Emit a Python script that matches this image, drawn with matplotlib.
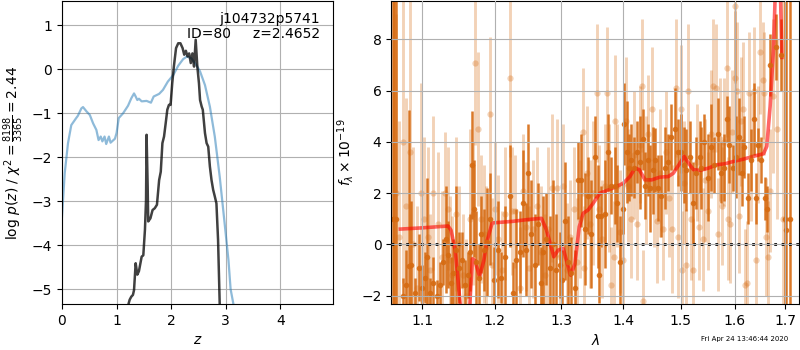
import matplotlib
matplotlib.use("Agg")
import matplotlib.pyplot as plt
from matplotlib.ticker import FixedLocator, FormatStrFormatter, NullLocator, NullFormatter

# ---------------- left panel data ----------------
z_blue = [0.0, 0.05, 0.11, 0.17, 0.26, 0.29, 0.355, 0.385, 0.45, 0.51, 0.57, 0.63, 0.67, 0.71,
          0.74, 0.78, 0.81, 0.86, 0.89, 0.97, 1.0, 1.04, 1.12, 1.21, 1.27, 1.32, 1.35, 1.38,
          1.41, 1.46, 1.55, 1.63, 1.68, 1.78, 1.85, 1.94, 2.04, 2.13, 2.22, 2.29, 2.37, 2.46,
          2.53, 2.62, 2.71, 2.80, 2.89, 2.98, 3.05, 3.09, 3.14, 3.20]
lnp_blue = [-3.35, -2.36, -1.68, -1.27, -1.11, -1.06, -0.89, -0.86, -0.96, -1.04, -1.23, -1.38,
            -1.61, -1.53, -1.64, -1.53, -1.70, -1.53, -1.67, -1.58, -1.45, -1.11, -1.0, -0.83,
            -0.66, -0.55, -0.62, -0.70, -0.67, -0.73, -0.72, -0.76, -0.62, -0.56, -0.47, -0.28,
            -0.13, 0.08, 0.23, 0.29, 0.25, 0.10, -0.05, -0.36, -0.85, -1.53, -2.44, -3.5,
            -4.33, -5.0, -5.33, -5.8]

z_black = [1.20, 1.22, 1.24, 1.27, 1.30, 1.32, 1.35, 1.38, 1.41, 1.46, 1.49, 1.52, 1.54, 1.55,
           1.57, 1.58, 1.62, 1.66, 1.70, 1.74, 1.78, 1.81, 1.84, 1.87, 1.90, 1.93, 1.96, 1.99,
           2.02, 2.05, 2.09, 2.13, 2.17, 2.21, 2.24, 2.27, 2.30, 2.33, 2.36, 2.39, 2.42, 2.45,
           2.48, 2.51, 2.53, 2.56, 2.58, 2.62, 2.65, 2.68, 2.71, 2.74, 2.77, 2.80, 2.83, 2.86,
           2.89, 2.91]
lnp_black = [-5.8, -5.33, -5.24, -5.17, -5.13, -5.02, -4.41, -4.67, -4.59, -4.26, -4.23, -3.65,
             -2.97, -1.49, -2.67, -3.46, -3.39, -3.20, -3.16, -3.08, -2.52, -2.33, -1.68, -1.53,
             -1.23, -0.92, -0.81, -0.81, -0.32, 0.06, 0.48, 0.59, 0.59, 0.48, 0.33, 0.42, 0.29,
             0.36, 0.14, 0.36, 0.06, 0.67, 0.06, -0.32, -0.70, -0.85, -0.92, -1.45, -1.68,
             -1.76, -2.21, -2.52, -2.74, -2.89, -3.05, -3.88, -5.33, -6.0]

# ---------------- right panel data ----------------
# model
lam_model = [1.0717, 1.1013, 1.1348, 1.1388, 1.1447, 1.1506, 1.1560, 1.1625, 1.1684, 1.1720,
             1.1785, 1.1845, 1.1893, 1.1965, 1.2257, 1.2480, 1.2693, 1.2770, 1.2882, 1.2949,
             1.3029, 1.3092, 1.3144, 1.3213, 1.3281, 1.3345, 1.3425, 1.3506, 1.3614, 1.3753,
             1.3890, 1.4001, 1.4114, 1.4199, 1.4273, 1.4370, 1.4486, 1.4632, 1.4779, 1.4868,
             1.4988, 1.5060, 1.5139, 1.5230, 1.5352, 1.5507, 1.5663, 1.5820, 1.5979, 1.6172,
             1.6367, 1.6565, 1.6631, 1.6698, 1.6765, 1.6820, 1.6880, 1.6935]
f_model = [0.60, 0.65, 0.72, 0.56, -0.24, -2.07, -3.5, -3.5, -0.56, -0.63,
           -1.25, -0.63, 0.16, 0.84, 0.90, 0.97, 1.02, 0.56, -0.48, -0.22,
           -0.16, -0.75, -1.20, -0.75, 0.69, 1.22, 1.35, 1.61, 2.00, 2.13,
           2.26, 2.39, 2.65, 2.98, 2.92, 2.52, 2.52, 2.63, 2.65, 2.78,
           3.18, 3.44, 3.18, 2.92, 2.89, 2.98, 3.11, 3.15, 3.24, 3.33,
           3.44, 3.54, 3.83, 5.40, 7.62, 11.0, 12.0, 7.3]

# dark (binned) spectrum
lam_dark = [1.0625, 1.0640, 1.0655, 1.0745, 1.0790, 1.0830, 1.0860, 1.0905, 1.0955, 1.1000,
            1.1040, 1.1070, 1.1110, 1.1150, 1.1195, 1.1235, 1.1275, 1.1316, 1.1345, 1.1385,
            1.1420, 1.1453, 1.1495, 1.1540, 1.1585, 1.1625, 1.1650, 1.1672, 1.1700, 1.1735,
            1.1770, 1.1810, 1.1850, 1.1890, 1.1930, 1.1990, 1.2048, 1.2096, 1.2145, 1.2218,
            1.2267, 1.2316, 1.2366, 1.2416, 1.2466, 1.2491, 1.2541, 1.2591, 1.2642, 1.2680,
            1.2718, 1.2769, 1.2820, 1.2872, 1.2923, 1.2975, 1.3010, 1.3053, 1.3105, 1.3158,
            1.3210, 1.3263, 1.3306, 1.3370, 1.3423, 1.3477, 1.3531, 1.3585, 1.3600, 1.3635,
            1.3690, 1.3745, 1.3800, 1.3855, 1.3900, 1.3940, 1.3995, 1.4022, 1.4067, 1.4106,
            1.4134, 1.4191, 1.4237, 1.4277, 1.4334, 1.4363, 1.4420, 1.4466, 1.4507, 1.4548,
            1.4595, 1.4654, 1.4713, 1.4772, 1.4831, 1.4890, 1.4950, 1.5010, 1.5058, 1.5100,
            1.5161, 1.5222, 1.5283, 1.5344, 1.5367, 1.5428, 1.5490, 1.5552, 1.5614, 1.5677,
            1.5739, 1.5803, 1.5854, 1.5898, 1.5962, 1.6026, 1.6077, 1.6135, 1.6186, 1.6270,
            1.6316, 1.6368, 1.6426, 1.6466, 1.6525, 1.6591, 1.6644, 1.6690, 1.6810, 1.6911,
            1.6990, 1.7027, 1.7095]
f_dark = [1.0, 1.0, 1.0, -2.0, -1.6, -0.85, -0.8, -1.9, -0.9, -1.7,
          -1.3, -0.5, -1.9, -1.5, -2.0, -1.6, -0.7, 0.2, -0.4, -1.5,
          -1.1, -0.2, -0.9, -0.6, -1.6, -1.2, -0.3, 3.1, 1.4, -0.7,
          -1.3, 0.4, -0.2, 0.1, 1.0, -1.4, -0.2, -1.3, -0.5, 1.9,
          -1.9, -0.6, -0.3, 1.6, -0.2, 2.8, 0.4, -0.8, 0.8, -1.5,
          -0.3, 0.2, -0.9, 0.0, -1.0, -0.8, -1.4, 0.9, -0.7, -1.1,
          -1.7, 2.5, 2.5, 0.6, 1.9, 0.4, 3.4, 1.1, -1.2, 1.1,
          1.2, 3.6, 2.3, 2.3, 1.6, -0.7, 1.4, 4.7, 3.6, 3.0,
          3.3, 3.0, 3.6, 3.2, 4.1, 2.3, 3.3, 2.2, 2.9, 3.3,
          2.2, 1.9, 3.0, 3.2, 4.2, 4.5, 3.6, 3.6, 3.1, 2.9,
          3.4, 1.6, 2.8, 3.4, 3.0, 4.0, 2.6, 3.8, 3.1, 4.3,
          2.8, 3.0, 4.9, 3.9, 3.0, 3.4, 4.2, 2.8, 3.8, 1.8,
          3.3, 4.9, 1.8, 3.9, 3.3, 1.8, 1.4, 7.0, 7.7, 7.4,
          1.0, 0.56, 1.0]
e_dark = [30, 30, 30, 0.7, 1.4, 6.1, 2.5, 0.6, 1.3, 0.9,
          1.0, 3.1, 0.6, 1.0, 0.6, 0.9, 0.9, 2.1, 1.3, 1.0,
          1.3, 2.5, 1.4, 1.1, 1.0, 0.9, 1.5, 2.1, 1.9, 2.0,
          1.3, 1.5, 1.6, 2.1, 1.8, 1.3, 1.9, 1.0, 2.0, 2.0,
          1.2, 2.0, 1.6, 2.1, 1.8, 1.9, 2.1, 2.0, 1.6, 1.4,
          2.2, 1.8, 2.0, 2.5, 2.2, 1.3, 1.2, 2.3, 1.8, 1.4,
          1.5, 1.5, 1.8, 2.2, 1.5, 2.1, 1.6, 2.0, 1.1, 1.2,
          2.1, 1.5, 1.1, 1.5, 1.5, 1.8, 1.0, 1.6, 2.0, 1.3,
          1.4, 1.2, 1.2, 1.8, 1.2, 1.3, 1.4, 1.7, 1.7, 1.25,
          1.3, 1.6, 1.6, 1.1, 1.3, 1.6, 1.3, 1.5, 1.5, 1.6,
          1.4, 1.6, 1.4, 1.4, 1.6, 1.1, 1.7, 1.7, 1.1, 1.4,
          1.2, 1.3, 0.9, 1.5, 0.9, 1.6, 1.5, 1.3, 1.2, 1.0,
          1.2, 1.4, 1.0, 0.65, 0.9, 0.85, 0.9, 1.2, 1.3, 1.4,
          30, 30, 30]

# light (unbinned) spectrum
lam_light = [1.0660, 1.0700, 1.0745, 1.0790, 1.0838, 1.0880, 1.0934, 1.0980, 1.1030, 1.1079,
             1.1100, 1.1150, 1.1214, 1.1260, 1.1300, 1.1348, 1.1370, 1.1400, 1.1450, 1.1500,
             1.1556, 1.1600, 1.1650, 1.1693, 1.1726, 1.1763, 1.1810, 1.1850, 1.1882, 1.1930,
             1.1960, 1.2000, 1.2050, 1.2100, 1.2150, 1.2222, 1.2250, 1.2300, 1.2373, 1.2420,
             1.2460, 1.2510, 1.2560, 1.2620, 1.2680, 1.2740, 1.2800, 1.2860, 1.2926, 1.2980,
             1.3030, 1.3080, 1.3130, 1.3200, 1.3240, 1.3290, 1.3334, 1.3360, 1.3400, 1.3450,
             1.3500, 1.3562, 1.3600, 1.3650, 1.3700, 1.3729, 1.3760, 1.3800, 1.3840, 1.3860,
             1.3900, 1.3950, 1.4000, 1.4040, 1.4080, 1.4130, 1.4180, 1.4230, 1.4280, 1.4322,
             1.4340, 1.4380, 1.4420, 1.4492, 1.4530, 1.4580, 1.4630, 1.4680, 1.4730, 1.4790,
             1.4840, 1.4921, 1.4960, 1.5000, 1.5030, 1.5060, 1.5100, 1.5139, 1.5180, 1.5230,
             1.5290, 1.5340, 1.5400, 1.5450, 1.5500, 1.5560, 1.5600, 1.5640, 1.5680, 1.5720,
             1.5760, 1.5800, 1.5847, 1.5880, 1.5920, 1.5960, 1.6006, 1.6010, 1.6050, 1.6080,
             1.6120, 1.6160, 1.6200, 1.6240, 1.6280, 1.6320, 1.6370, 1.6420, 1.6460, 1.6500,
             1.6550, 1.6580, 1.6610, 1.6650, 1.6690, 1.6760, 1.6830, 1.6950]
f_light = [2.0, 0.3, 4.0, 1.5, 3.6, 0.0, -1.7, 2.0, 1.0, 0.3,
           -1.0, 2.0, 0.8, -0.5, 2.0, 1.4, -0.6, -1.2, 1.2, 0.0,
           -1.2, -2.0, 1.0, 1.2, 7.1, 4.5, 1.0, 0.4, -0.1, 5.1,
           -0.8, 1.4, 0.2, -1.0, 1.2, 6.5, 1.3, 1.3, -1.7, 2.1,
           0.7, -0.9, 0.6, 1.5, -0.3, -1.2, 0.6, 2.2, 2.2, -0.5,
           2.3, -1.0, 0.3, 1.4, -0.7, 1.0, 4.4, -0.9, 2.8, 0.8,
           2.0, 5.9, 1.4, 0.2, 2.3, 5.9, 2.2, -1.6, -0.5, 4.8,
           2.3, 0.5, -0.6, 4.8, 2.3, 1.0, 3.5, 0.8, 3.9, 6.2,
           -2.2, 2.5, 4.3, 5.3, 2.2, 0.9, 2.8, 0.6, 3.6, 1.8,
           0.6, 6.1, 0.3, 5.3, -1.0, 2.4, -0.8, 6.0, 1.0, -1.0,
           3.2, 0.7, 0.2, 2.5, 1.3, 4.3, 6.2, 6.1, 0.4, 4.1,
           1.5, 4.0, 6.9, 1.0, 0.8, 4.4, 9.3, 6.5, 6.0, 1.1,
           4.8, 5.3, -1.6, -1.5, 5.9, 3.4, 6.0, -0.6, 3.9, 7.5,
           6.4, 5.9, 0.3, -0.5, 2.1, 5.8, 4.5, 1.0]
e_light = [7.0, 4.5, 5.5, 4.2, 6.0, 3.8, 3.2, 4.3, 3.2, 3.5,
           2.2, 3.0, 2.8, 2.6, 2.4, 2.4, 2.5, 2.3, 3.0, 2.3,
           2.4, 2.2, 3.5, 2.8, 3.2, 3.0, 2.5, 2.7, 2.4, 3.0,
           2.6, 2.6, 2.5, 2.3, 2.6, 3.1, 2.5, 2.2, 2.4, 2.2,
           2.5, 2.4, 2.7, 2.3, 2.6, 2.4, 3.2, 2.9, 2.7, 2.5,
           2.4, 2.6, 2.2, 2.4, 2.5, 2.3, 2.5, 2.4, 2.6, 2.5,
           2.8, 2.7, 2.5, 2.3, 2.4, 2.6, 2.5, 2.3, 2.2, 2.6,
           2.4, 2.4, 2.1, 2.5, 2.2, 2.3, 2.5, 2.2, 2.3, 2.6,
           2.0, 2.5, 2.3, 2.4, 2.3, 2.4, 2.5, 2.0, 2.4, 2.3,
           2.5, 2.7, 2.4, 2.5, 2.3, 2.4, 2.2, 2.6, 2.4, 2.0,
           2.3, 2.1, 2.0, 2.4, 2.3, 2.5, 2.6, 2.5, 2.2, 2.4,
           2.3, 2.5, 2.7, 2.4, 2.3, 2.4, 3.0, 2.6, 2.7, 2.2,
           2.5, 2.6, 2.2, 2.4, 2.4, 2.5, 2.5, 2.2, 2.3, 2.4,
           2.3, 2.4, 2.3, 2.2, 2.4, 3.0, 3.5, 20]

lam_ticks = [1.1, 1.2, 1.3, 1.4, 1.5, 1.6, 1.7]
z_ticks = [0, 1, 2, 3, 4]
lnp_ticks = [-5, -4, -3, -2, -1, 0, 1]
flux_ticks = [-2, 0, 2, 4, 6, 8]

# ---------------- figure ----------------
fig = plt.figure(figsize=(8, 3.5), dpi=100)
ax1 = fig.add_axes([0.0775, 0.131, 0.339, 0.866])
ax2 = fig.add_axes([0.489, 0.131, 0.510, 0.866])

ax1.plot(z_blue, lnp_blue, color='C0', alpha=0.5, lw=1.6)
ax1.plot(z_black, lnp_black, color='k', alpha=0.75, lw=1.8)
ax1.set_xlim(0, 4.97)
ax1.set_ylim(-5.34, 1.55)
ax1.set_xticks(z_ticks)
ax1.set_yticks(lnp_ticks)
ax1.grid(True)
ax1.set_axisbelow(True)
ax1.set_xlabel('$z$')
ax1.set_ylabel(r'log $p(z)$ / $\chi^2=\frac{8198}{3365}=2.44$')
ax1.text(0.95, 0.965, 'j104732p5741\nID=80     z=2.4652', ha='right', va='top',
         transform=ax1.transAxes, fontsize=10, linespacing=1.15)

orange = (0.84, 0.42, 0.07)
ax2.errorbar(lam_light, f_light, yerr=e_light, fmt='o', color=orange, alpha=0.3,
             markersize=4.5, elinewidth=2.1, capsize=0, markeredgewidth=0)
ax2.errorbar(lam_dark, f_dark, yerr=e_dark, fmt='o', color=orange, alpha=0.9,
             markersize=4, elinewidth=1.8, capsize=0, markeredgewidth=0)
ax2.plot(lam_model, f_model, color='r', alpha=0.6, lw=2.6)
ax2.axhline(0, color='k', ls=':', lw=2.0)
ax2.set_xscale('log')
ax2.set_xlim(1.06, 1.729)
ax2.set_ylim(-2.33, 9.5)
ax2.xaxis.set_major_locator(FixedLocator(lam_ticks))
ax2.xaxis.set_major_formatter(FormatStrFormatter('%.1f'))
ax2.xaxis.set_minor_locator(NullLocator())
ax2.xaxis.set_minor_formatter(NullFormatter())
ax2.set_yticks(flux_ticks)
ax2.grid(True)
ax2.set_axisbelow(False)
ax2.set_xlabel(r'$\lambda$')
ax2.set_ylabel(r'$f_\lambda \times 10^{-19}$')

fig.text(0.985, 0.022, 'Fri Apr 24 13:46:44 2020', ha='right', va='bottom', fontsize=5)

fig.savefig('out.png', dpi=100)
